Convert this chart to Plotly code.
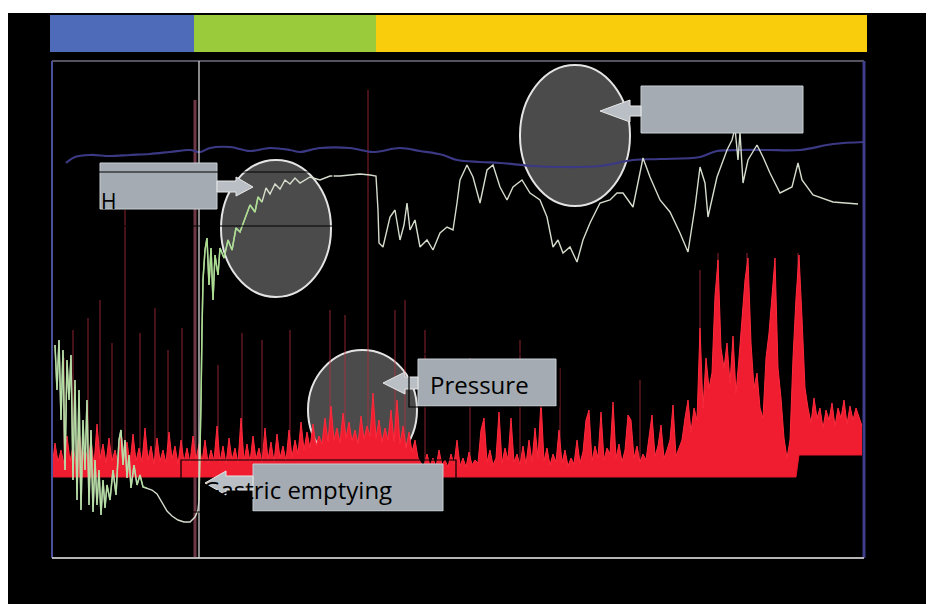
import plotly.graph_objects as go

# ---------------- data (time in arbitrary recording units, signals as trace levels) ----------
ph_t = [55,57,59,61,63,65,67,69,71,73,75,77,79,81,83,85,87,89,91,93,95,97,99,101,103,105,107,110,113,116,
        119,121,123,125,127,129,131,134,137,140,143,147,152,157,162,167,172,178,184,190,195,198,
        199,200,201,202,203,205,207,209,211,213,215,218,220,224,228,232,236,240,245,250,255,258,262,266,
        270,275,280,285,290,295,300,310,320,330,340,350,360,370,376,
        378,379,383,390,395,400,404,407,410,415,420,427,433,440,447,453,457,460,467,473,480,487,493,500,
        507,513,522,530,540,547,553,558,563,570,577,583,590,600,610,617,623,633,643,650,660,670,680,688,
        695,700,705,708,717,727,732,735,738,740,743,748,757,763,770,780,792,798,802,813,833,853,858]
ph_v = [213,168,218,138,208,88,198,158,203,78,178,58,168,48,138,88,158,53,128,46,98,53,88,43,78,50,73,58,88,63,
        118,128,93,118,80,103,70,93,73,83,71,70,68,64,55,47,42,38,36,36,41,48,
        58,98,158,228,278,308,320,273,310,258,303,283,310,300,318,308,330,326,340,353,346,361,356,370,
        364,374,369,378,374,380,375,381,378,382,382,383,384,383,382,
        348,315,311,341,348,318,333,355,328,338,311,318,308,325,331,328,355,378,393,381,355,388,393,371,
        358,371,378,365,358,341,311,318,305,311,296,318,335,355,358,365,365,351,400,381,358,346,325,306,
        351,391,375,341,381,408,418,430,398,426,375,398,413,401,385,365,371,395,378,363,356,355,354]

temp_t = [66,75,90,110,130,150,170,190,200,210,230,250,270,290,300,320,350,373,400,420,443,457,480,500,
          533,560,600,633,660,700,717,740,767,800,833,864]
temp_v = [395,401,403,402,403,404,406,408,406,410,411,407,410,408,406,410,410,406,410,407,403,398,396,395,
          392,391,392,398,399,401,407,408,408,408,414,416]

# pressure: sampled every 3 time units from 52 to 862
p_t = list(range(52, 865, 3))
p_v = [90,115,96,108,94,122,97,112,95,128,98,110,96,118,93,134,99,114,95,120,97,108,94,126,100,116,95,124,97,110,
       96,130,98,112,94,120,97,108,95,126,99,112,94,118,96,110,95,122,98,114,
       96,118,95,108,97,132,96,112,94,120,98,110,95,140,97,114,96,122,99,110,95,130,98,116,96,124,100,112,97,128,
       101,118,104,136,
       108,126,110,134,112,122,114,140,116,152,118,130,115,145,120,136,117,128,114,142,119,132,122,165,120,138,
       116,130,118,148,116,158,114,132,110,126,106,118,100,
       95,92,104,92,100,91,108,93,98,91,104,94,118,92,100,91,106,93,98,95,128,140,96,108,93,100,146,95,110,98,
       140,96,104,93,112,94,118,96,130,100,158,97,110,93,104,96,128,95,108,92,100,94,118,95,106,138,148,97,112,
       100,146,98,110,104,156,100,114,96,108,143,138,100,112,96,104,98,118,143,102,112,133,100,108,118,153,102,
       110,
       118,140,158,126,150,138,230,150,200,170,185,262,298,210,190,215,175,222,165,200,240,278,300,215,170,185,
       150,140,200,225,262,300,190,160,120,100,118,200,260,
       303,240,170,150,135,160,140,150,130,148,138,155,132,150,140,158,134,152,138,150,140,132]
base_early, base_late, base_step_t = 81, 103, 797

spike_t = [64,73,88,100,112,125,140,155,168,182,218,242,262,290,330,345,368,395,405,425,470,520,560,640,
           700,718,747,798]
spike_v = [200,228,240,258,215,348,225,250,208,230,193,225,218,228,248,243,468,248,258,228,200,218,190,178,
           288,305,305,305]

phase_names = ["stomach", "small bowel", "colon"]
phase_start = [50, 194, 376]
phase_end = [194, 376, 867]
phase_colors = ["#4d6bb8", "#9acb3b", "#f9cd0b"]

gastric_emptying_t = 199
marker_t = 195

X0, X1 = 52, 864
Y0, Y1 = 0, 497


def pxx(t):
    return (t - X0) / (X1 - X0)


def pyy(v):
    return (v - Y0) / (Y1 - Y0)


fig = go.Figure()

# thin faint pressure spikes
sx, sy = [], []
for t, v in zip(spike_t, spike_v):
    b = base_early if t < base_step_t else base_late
    sx += [t, t, None]
    sy += [b, v, None]
fig.add_trace(go.Scatter(x=sx, y=sy, mode="lines", line=dict(color="rgba(190,45,65,0.5)", width=1.5),
                         hoverinfo="skip", showlegend=False))

# pressure filled area
p_base = [base_early if t < base_step_t else base_late for t in p_t]
fig.add_trace(go.Scatter(x=p_t, y=p_base, mode="lines", line=dict(color="#e8182c", width=1),
                         showlegend=False, hoverinfo="skip"))
fig.add_trace(go.Scatter(x=p_t, y=p_v, mode="lines", line=dict(color="#ff2a3c", width=1),
                         fill="tonexty", fillcolor="#f01c30", showlegend=False, name="Pressure"))

# temperature
fig.add_trace(go.Scatter(x=temp_t, y=temp_v, mode="lines", line=dict(color="#3b3984", width=2.2),
                         showlegend=False, name="Temperature", line_shape="spline"))

# pH
fig.add_trace(go.Scatter(x=ph_t, y=ph_v, mode="lines", line=dict(color="#d4dccc", width=1.4),
                         showlegend=False, name="pH"))
gx = [t for t in ph_t if t <= 150]
gy = [v for t, v in zip(ph_t, ph_v) if t <= 150]
fig.add_trace(go.Scatter(x=gx, y=gy, mode="lines", line=dict(color="rgba(170,222,150,0.7)", width=1.5),
                         showlegend=False, hoverinfo="skip"))
gx2 = [t for t in ph_t if 199 <= t <= 262]
gy2 = [v for t, v in zip(ph_t, ph_v) if 199 <= t <= 262]
fig.add_trace(go.Scatter(x=gx2, y=gy2, mode="lines", line=dict(color="rgba(160,222,130,0.8)", width=1.5),
                         showlegend=False, hoverinfo="skip"))

shapes = []
# white strip at the top of the page
shapes.append(dict(type="rect", xref="paper", yref="paper", x0=-0.2, x1=1.2, y0=pyy(545), y1=1.3,
                   fillcolor="white", line=dict(width=0), layer="above"))
# phase bar
for s, e, c in zip(phase_start, phase_end, phase_colors):
    shapes.append(dict(type="rect", xref="paper", yref="paper", x0=pxx(s), x1=pxx(e),
                       y0=pyy(506), y1=pyy(543), fillcolor=c, line=dict(width=0)))

# circles (below traces)
circ = dict(type="circle", xref="x", yref="y", fillcolor="#4b4b4b", line=dict(color="#e4e4e4", width=2),
            layer="below")
shapes.append(dict(circ, x0=221, x1=331, y0=261, y1=398))
shapes.append(dict(circ, x0=520, x1=630, y0=352, y1=493))
shapes.append(dict(circ, x0=308, x1=417, y0=88, y1=208))

# frame
shapes.append(dict(type="line", xref="paper", yref="paper", x0=0, x1=1, y0=1, y1=1,
                   line=dict(color="#57525f", width=2)))
shapes.append(dict(type="line", xref="paper", yref="paper", x0=0, x1=0, y0=0, y1=1,
                   line=dict(color="#4b519a", width=2)))
shapes.append(dict(type="line", xref="paper", yref="paper", x0=1, x1=1, y0=0, y1=1,
                   line=dict(color="#3e3e8a", width=3)))
shapes.append(dict(type="line", xref="paper", yref="paper", x0=0, x1=1, y0=0, y1=0,
                   line=dict(color="#b4b4b4", width=2)))
shapes.append(dict(type="line", xref="x", yref="paper", x0=marker_t, x1=marker_t, y0=0, y1=pyy(458),
                   line=dict(color="rgba(220,110,140,0.5)", width=3), layer="below"))
shapes.append(dict(type="line", xref="x", yref="paper", x0=gastric_emptying_t, x1=gastric_emptying_t,
                   y0=0, y1=1, line=dict(color="#d2d2d2", width=1.3)))

# callout boxes
box = dict(type="rect", xref="x", yref="y", fillcolor="#a4abb2", line=dict(color="#c8ced4", width=1))
shapes.append(dict(box, x0=100, x1=217, y0=349, y1=395))
shapes.append(dict(box, x0=641, x1=803, y0=425, y1=472))
shapes.append(dict(box, x0=418, x1=556, y0=152, y1=199))
shapes.append(dict(box, x0=253, x1=443, y0=47, y1=94))
# arrows
arr = dict(type="path", xref="x", yref="y", fillcolor="#b9bfc5", line=dict(color="#e8e8e8", width=1))
shapes.append(dict(arr, path="M 217,377 L 236,377 L 236,381 L 253,371 L 236,362 L 236,366 L 217,366 Z"))
shapes.append(dict(arr, path="M 641,452 L 630,452 L 630,458 L 600,447 L 630,436 L 630,442 L 641,442 Z"))
shapes.append(dict(arr, path="M 418,181 L 405,181 L 405,186 L 383,175 L 405,164 L 405,169 L 418,169 Z"))
shapes.append(dict(arr, path="M 253,82 L 226,82 L 226,87 L 205,75 L 226,63 L 226,68 L 253,68 Z"))
# black text frames
frm = dict(type="rect", xref="x", yref="y", fillcolor="rgba(0,0,0,0)", line=dict(color="#000000", width=1.2))
shapes.append(dict(frm, x0=96, x1=333, y0=332, y1=386))
shapes.append(dict(frm, x0=409, x1=559, y0=151, y1=204))
shapes.append(dict(frm, x0=181, x1=456, y0=46, y1=98))

annotations = [
    dict(x=99, y=357, xref="x", yref="y", text="H", showarrow=False, xanchor="left", yanchor="middle",
         font=dict(family="Open Sans", size=21, color="#000000")),
    dict(x=428, y=174, xref="x", yref="y", text="Pressure", showarrow=False, xanchor="left", yanchor="middle",
         font=dict(family="Open Sans", size=24, color="#000000")),
    dict(x=201, y=69, xref="x", yref="y", text="Gastric emptying", showarrow=False, xanchor="left",
         yanchor="middle", font=dict(family="Open Sans", size=24, color="#000000")),
]

fig.update_layout(
    width=926, height=596,
    margin=dict(l=44, r=70, t=53, b=46),
    paper_bgcolor="#000000", plot_bgcolor="#000000",
    shapes=shapes, annotations=annotations, showlegend=False,
    xaxis=dict(range=[X0, X1], visible=False, fixedrange=True),
    yaxis=dict(range=[Y0, Y1], visible=False, fixedrange=True),
)

fig.write_html("out.html")
